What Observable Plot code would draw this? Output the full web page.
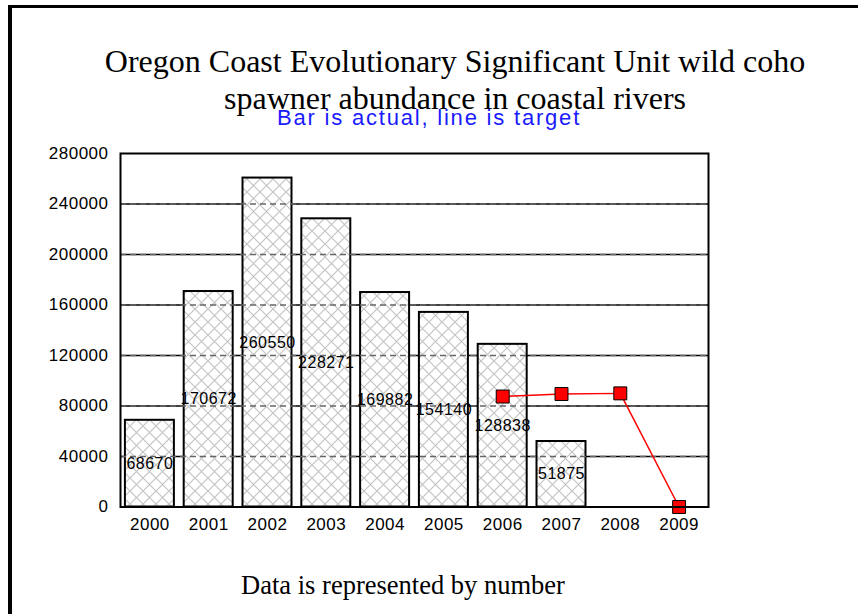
<!DOCTYPE html>
<html>
<head>
<meta charset="utf-8">
<script src="https://cdn.jsdelivr.net/npm/d3@7"></script>
<script src="https://cdn.jsdelivr.net/npm/@observablehq/plot@0.6"></script>
<style>
  html, body { margin: 0; padding: 0; background: #fff; }
  #wrap { position: relative; width: 858px; height: 614px; overflow: hidden; background: #fff; }
  #border { position: absolute; left: 8px; top: 5px; width: 1000px; height: 1000px;
            border-left: 4px solid #000; border-top: 3px solid #000; }
  #title { position: absolute; left: 0; top: 43px; width: 910px; text-align: center;
           font-family: "Liberation Serif", "Times New Roman", serif; font-size: 32px; line-height: 37px; color: #000; }
  #subtitle { position: absolute; left: 0; top: 107px; width: 858px; text-align: center;
              font-family: "Liberation Sans", Arial, sans-serif; font-size: 22px; line-height: 22px;
              letter-spacing: 1.8px; color: #1a1aff; }
  #caption { position: absolute; left: 0; top: 572px; width: 806px; text-align: center;
             font-family: "Liberation Serif", "Times New Roman", serif; font-size: 26.5px; line-height: 26px; color: #000; }
  #chart { position: absolute; left: 0; top: 140px; }
  #chart svg text { letter-spacing: 0.5px; }
</style>
</head>
<body>
<div id="wrap">
  <div id="border"></div>
  <div id="chart"></div>
  <div id="title">Oregon Coast Evolutionary Significant Unit wild coho<br>spawner abundance in coastal rivers</div>
  <div id="subtitle">Bar is actual, line is target</div>
  <div id="caption">Data is represented by number</div>
</div>
<script>
// ---- data ----
const years = ["2000", "2001", "2002", "2003", "2004", "2005", "2006", "2007", "2008", "2009"];
const actual = [68670, 170672, 260550, 228271, 169882, 154140, 128838, 51875, null, null];
const targetYears = ["2006", "2007", "2008", "2009"];
const targets = [87500, 89500, 90000, 0];
const yTicks = [0, 40000, 80000, 120000, 160000, 200000, 240000, 280000];
const gridValues = [40000, 80000, 120000, 160000, 200000, 240000];

const barData = years.map((year, i) => ({year, value: actual[i]})).filter(d => d.value != null);
const targetData = targetYears.map((year, i) => ({year, value: targets[i]}));

const chart = Plot.plot({
  width: 858,
  height: 410,
  marginLeft: 120,
  marginRight: 150,
  marginTop: 13,
  marginBottom: 43.5,
  style: {fontFamily: "'Liberation Sans', Arial, sans-serif", fontSize: "17px", color: "#000", background: "transparent", overflow: "visible"},
  x: {domain: years, paddingInner: 0.167, paddingOuter: 0.0835, round: false, label: null, tickSize: 0, tickPadding: 11},
  y: {domain: [0, 280000], ticks: yTicks, label: null, tickSize: 0, tickPadding: 12, tickFormat: d => String(d)},
  marks: [
    Plot.ruleY(gridValues, {stroke: "#000", strokeWidth: 1.5}),
    Plot.barY(barData, {x: "year", y: "value", fill: "#fff"}),
    Plot.barY(barData, {x: "year", y: "value", fill: "url(#hatch)", stroke: "#000", strokeWidth: 2}),
    Plot.ruleY(gridValues, {stroke: "#666", strokeWidth: 1.5, strokeDasharray: "6,4"}),
    Plot.text(barData, {x: "year", y: d => d.value / 2, text: d => String(d.value), fill: "#000", fontSize: 16}),
    Plot.line(targetData, {x: "year", y: "value", stroke: "#ff0000", strokeWidth: 1.5}),
    Plot.dot(targetData, {x: "year", y: "value", symbol: "square", r: 7.3, fill: "#ff0000", stroke: "#000", strokeWidth: 1}),
    Plot.frame({stroke: "#000", strokeWidth: 2})
  ]
});

// hatch pattern for the bars
const ns = "http://www.w3.org/2000/svg";
const defs = document.createElementNS(ns, "defs");
const pat = document.createElementNS(ns, "pattern");
pat.setAttribute("id", "hatch");
pat.setAttribute("patternUnits", "userSpaceOnUse");
pat.setAttribute("width", "13");
pat.setAttribute("height", "13");
const bg = document.createElementNS(ns, "rect");
bg.setAttribute("width", "13"); bg.setAttribute("height", "13"); bg.setAttribute("fill", "#fff");
const p = document.createElementNS(ns, "path");
p.setAttribute("d", "M0,0L13,13M13,0L0,13");
p.setAttribute("stroke", "#c4c4c4");
p.setAttribute("stroke-width", "1.2");
p.setAttribute("fill", "none");
pat.appendChild(bg); pat.appendChild(p);
defs.appendChild(pat);
chart.insertBefore(defs, chart.firstChild);

document.getElementById("chart").appendChild(chart);
</script>
</body>
</html>
